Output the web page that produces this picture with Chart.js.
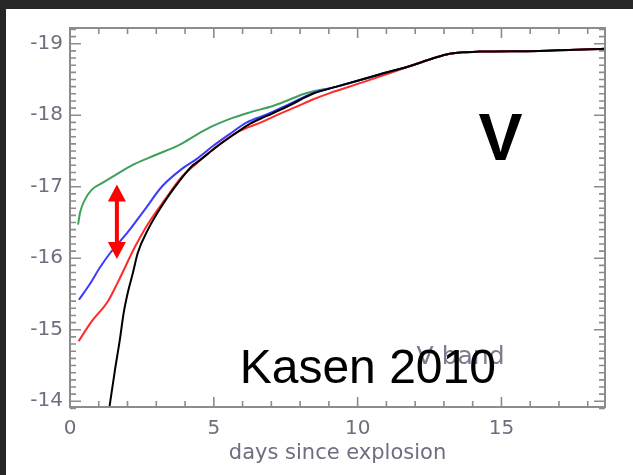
<!DOCTYPE html>
<html lang="en">
<head>
<meta charset="UTF-8">
<title>V band - Kasen 2010</title>
<script src="https://cdn.jsdelivr.net/npm/chart.js"></script>
<style>
  html, body { margin: 0; padding: 0; width: 633px; height: 475px; overflow: hidden; background: #262626; }
  .panel { position: absolute; left: 6px; top: 9px; width: 627px; height: 466px; background: #fff; }
</style>
</head>
<body>
<div class="panel"><canvas id="lc" width="627" height="466"></canvas></div>
<script>
// light curves (days since explosion, absolute V mag)
const blackDays = [1.35, 1.39, 1.56, 1.74, 1.86, 2.01, 2.19, 2.36, 2.71, 3.19, 3.75, 4.24, 4.51, 5.10, 5.66, 6.25, 6.84, 7.64, 8.44, 9.27, 10.76, 11.91, 12.5, 13.09, 13.65, 14.24, 16.3, 18.6];
const blackMag  = [-13.85, -13.97, -14.43, -14.88, -15.22, -15.52, -15.80, -16.08, -16.40, -16.73, -17.05, -17.29, -17.37, -17.56, -17.72, -17.88, -17.99, -18.14, -18.30, -18.40, -18.57, -18.70, -18.78, -18.85, -18.88, -18.89, -18.90, -18.93];

const redDays = [0.3, 0.76, 1.32, 1.67, 2.26, 2.71, 3.30, 3.89, 4.41, 4.97, 5.80, 6.70, 7.29, 7.88, 8.44, 9.03, 10.17, 11.91, 12.5, 13.09, 13.65, 14.24, 16.3, 18.6];
const redMag  = [-14.84, -15.12, -15.40, -15.67, -16.16, -16.48, -16.82, -17.14, -17.33, -17.52, -17.76, -17.91, -18.02, -18.12, -18.22, -18.31, -18.46, -18.70, -18.78, -18.85, -18.88, -18.89, -18.90, -18.93];

const blueDays = [0.31, 0.69, 1.04, 1.39, 1.98, 2.60, 3.19, 3.89, 4.41, 4.97, 5.56, 6.15, 6.84, 7.64, 8.44, 9.27, 10.76, 11.91, 12.5, 13.09, 13.65, 14.24, 16.3, 18.6];
const blueMag  = [-15.42, -15.64, -15.87, -16.07, -16.35, -16.68, -17.00, -17.25, -17.39, -17.57, -17.74, -17.90, -18.01, -18.16, -18.31, -18.40, -18.57, -18.70, -18.78, -18.85, -18.88, -18.89, -18.90, -18.93];

const greenDays = [0.28, 0.35, 0.52, 0.76, 1.11, 1.56, 2.15, 2.95, 3.82, 4.41, 4.97, 5.56, 6.25, 7.05, 7.64, 8.23, 9.27, 10.76, 11.91, 12.5, 13.09, 13.65, 14.24, 16.3, 18.6];
const greenMag  = [-16.47, -16.64, -16.82, -16.96, -17.05, -17.16, -17.30, -17.44, -17.59, -17.73, -17.85, -17.95, -18.04, -18.13, -18.22, -18.31, -18.40, -18.57, -18.70, -18.78, -18.85, -18.88, -18.89, -18.90, -18.93];

// double arrow marking the spread at early times
const arrowDay = 1.63;
const arrowMag = [-17.03, -15.99];

const xTicks = [0, 5, 10, 15];
const yTicks = [-19, -18, -17, -16, -15, -14];

const pts = (xs, ys) => xs.map((d, i) => ({ x: d, y: ys[i] }));
const line = (data, color) => ({
    data: data, borderColor: color, borderWidth: 2, pointRadius: 0,
    cubicInterpolationMode: 'monotone', fill: false
});

const labelFont = { family: 'DejaVu Sans', size: 20 };
const labelColor = '#6e6e80';

const frame = {
    id: 'frame',
    afterDatasetsDraw(chart) {
        const { ctx, chartArea: a, scales: { x, y } } = chart;
        ctx.save();
        // box + inward ticks on all sides
        ctx.strokeStyle = '#8c8c8c';
        ctx.lineWidth = 2;
        ctx.strokeRect(a.left, a.top, a.right - a.left, a.bottom - a.top);
        ctx.lineWidth = 1.6;
        ctx.beginPath();
        for (let d = 0; d <= 18; d++) {
            const px = x.getPixelForValue(d);
            const len = d % 5 === 0 ? 10 : 6;
            ctx.moveTo(px, a.bottom); ctx.lineTo(px, a.bottom - len);
            ctx.moveTo(px, a.top); ctx.lineTo(px, a.top + len);
        }
        for (let k = -192; k <= -139; k++) {
            const py = y.getPixelForValue(k / 10);
            const len = k % 10 === 0 ? 11 : 6;
            ctx.moveTo(a.left, py); ctx.lineTo(a.left + len, py);
            ctx.moveTo(a.right, py); ctx.lineTo(a.right - len, py);
        }
        ctx.stroke();

        // red double arrow
        const ax = x.getPixelForValue(arrowDay);
        const top = y.getPixelForValue(arrowMag[0]);
        const bot = y.getPixelForValue(arrowMag[1]);
        ctx.fillStyle = '#ff0000';
        ctx.fillRect(ax - 2, top + 14, 4, bot - top - 28);
        ctx.beginPath();
        ctx.moveTo(ax, top); ctx.lineTo(ax - 9, top + 17); ctx.lineTo(ax + 9, top + 17);
        ctx.closePath();
        ctx.moveTo(ax, bot); ctx.lineTo(ax - 9, bot - 17); ctx.lineTo(ax + 9, bot - 17);
        ctx.closePath();
        ctx.fill();

        // annotations
        ctx.textBaseline = 'alphabetic';
        ctx.textAlign = 'left';
        ctx.fillStyle = '#7c7c90';
        ctx.font = '25px "DejaVu Sans"';
        ctx.fillText('V band', x.getPixelForValue(12.05), y.getPixelForValue(-14.52));
        ctx.fillStyle = '#000';
        ctx.font = '48px "Liberation Sans"';
        ctx.fillText('Kasen 2010', x.getPixelForValue(5.9), y.getPixelForValue(-14.26));
        ctx.font = 'bold 66px "Liberation Sans"';
        ctx.fillText('V', x.getPixelForValue(14.2), y.getPixelForValue(-17.37));
        ctx.restore();
    }
};

new Chart(document.getElementById('lc'), {
    type: 'line',
    data: {
        datasets: [
            line(pts(blackDays, blackMag), '#000000'),
            line(pts(redDays, redMag), '#ff2a2a'),
            line(pts(blueDays, blueMag), '#3b3bff'),
            line(pts(greenDays, greenMag), '#3f9f5c')
        ]
    },
    options: {
        responsive: false,
        animation: false,
        layout: { padding: { top: 14, right: 28, left: 0, bottom: 0 } },
        plugins: { legend: { display: false }, tooltip: { enabled: false } },
        scales: {
            x: {
                type: 'linear', min: 0, max: 18.6,
                afterBuildTicks: s => { s.ticks = xTicks.map(v => ({ value: v })); },
                afterFit: s => { s.height = 68; },
                grid: { display: false, drawTicks: false },
                border: { display: false },
                ticks: { font: labelFont, color: labelColor, padding: 10, maxRotation: 0 },
                title: { display: true, text: 'days since explosion', font: { family: 'DejaVu Sans', size: 21 }, color: labelColor, padding: { top: 0, bottom: 9 } }
            },
            y: {
                type: 'linear', min: -19.22, max: -13.92, reverse: true,
                afterBuildTicks: s => { s.ticks = yTicks.map(v => ({ value: v })); },
                afterFit: s => { s.width = 64; },
                grid: { display: false, drawTicks: false },
                border: { display: false },
                ticks: { font: labelFont, color: labelColor, padding: 7 }
            }
        }
    },
    plugins: [frame]
});
</script>
</body>
</html>
